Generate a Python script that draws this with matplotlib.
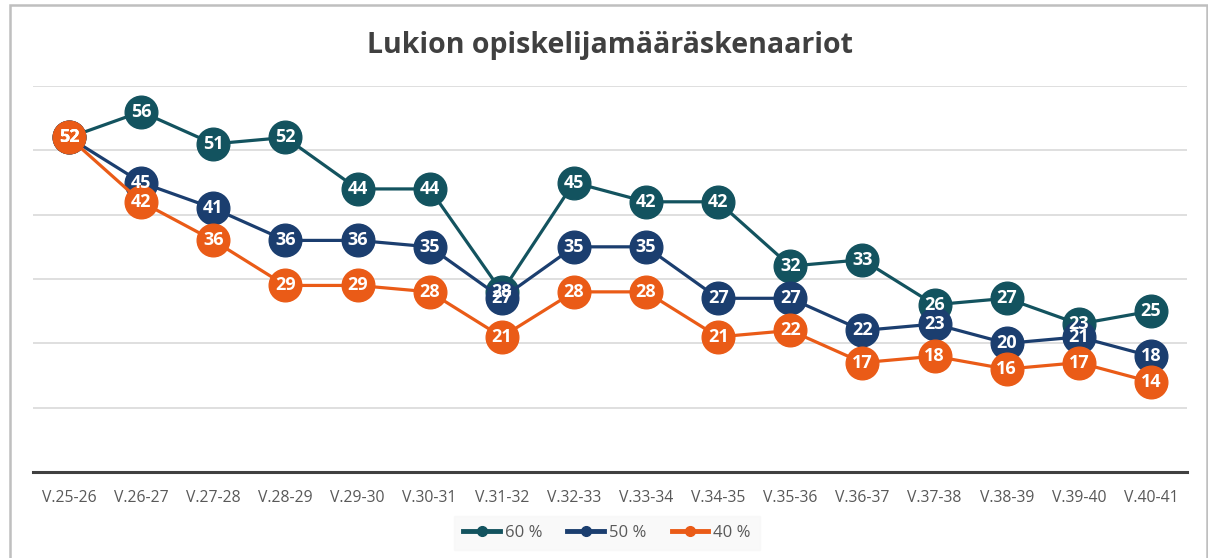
import matplotlib.pyplot as plt
from matplotlib.patches import Rectangle

periods = ["V.25-26", "V.26-27", "V.27-28", "V.28-29", "V.29-30", "V.30-31",
           "V.31-32", "V.32-33", "V.33-34", "V.34-35", "V.35-36", "V.36-37",
           "V.37-38", "V.38-39", "V.39-40", "V.40-41"]
s60 = [52, 56, 51, 52, 44, 44, 28, 45, 42, 42, 32, 33, 26, 27, 23, 25]
s50 = [52, 45, 41, 36, 36, 35, 27, 35, 35, 27, 27, 22, 23, 20, 21, 18]
s40 = [52, 42, 36, 29, 29, 28, 21, 28, 28, 21, 22, 17, 18, 16, 17, 14]

series = [("60 %", s60, "#13535f"), ("50 %", s50, "#1b3e6f"), ("40 %", s40, "#ea5b17")]

plt.rcParams["font.family"] = ["Open Sans", "DejaVu Sans"]

fig = plt.figure(figsize=(12.08, 5.58), dpi=100)
ax = fig.add_axes([33 / 1208, 86 / 558, 1154 / 1208, 386 / 558])

# chart border
fig.patches.append(Rectangle((10 / 1208, -0.05), 1197 / 1208, 1 - 5 / 558 + 0.05,
                             transform=fig.transFigure, fill=False,
                             edgecolor="#bfbfbf", linewidth=1.8))

x = list(range(len(periods)))
for name, vals, col in series:
    ax.plot(x, vals, color=col, linewidth=2.3, marker="o", markersize=23.5,
            markeredgecolor=col, label=name, zorder=3)

for name, vals, col in series:
    for xi, v in zip(x, vals):
        ax.text(xi, v, str(v), ha="center", va="center", color="white",
                fontsize=13, fontweight="bold", zorder=5)

ax.set_xlim(-0.5, len(periods) - 0.5)
ax.set_ylim(0, 60)
ax.set_yticks([10, 20, 30, 40, 50, 60])
ax.yaxis.grid(True, color="#d9d9d9", linewidth=1.2)
ax.set_axisbelow(True)
ax.tick_params(axis="y", left=False, labelleft=False)
ax.tick_params(axis="x", length=0, pad=13, labelsize=11.3, labelcolor="#595959")
ax.set_xticks(x)
ax.set_xticklabels(periods)
for side in ["top", "right", "left"]:
    ax.spines[side].set_visible(False)
ax.spines["bottom"].set_color("#404040")
ax.spines["bottom"].set_linewidth(2.2)

fig.text(0.505, 1 - 45 / 558, "Lukion opiskelijamääräskenaariot", ha="center",
         va="center", fontsize=20.5, fontweight="bold", color="#404040")

handles = [plt.Line2D([0], [0], color=col, linewidth=3.5, marker="o", markersize=7)
           for _, _, col in series]
leg = fig.legend(handles, [s[0] for s in series], loc="center",
                 bbox_to_anchor=(607 / 1208, 1 - 533 / 558), ncol=3,
                 frameon=True, fontsize=12, handlelength=2.2, handletextpad=0.3,
                 columnspacing=1.5, borderpad=0.55)
leg.get_frame().set_facecolor("#f8f8f8")
leg.get_frame().set_edgecolor("#f8f8f8")
leg.get_frame().set_boxstyle("square", pad=0)
for t in leg.get_texts():
    t.set_color("#595959")

fig.savefig("out.png", dpi=100)
